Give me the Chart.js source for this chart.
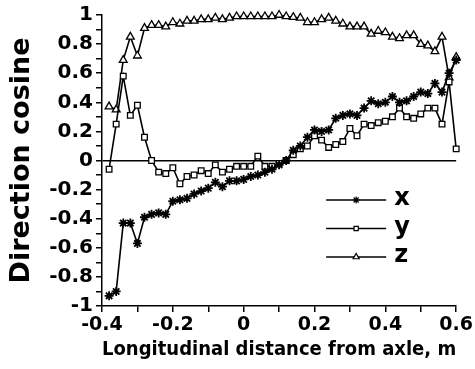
<!DOCTYPE html>
<html>
<head>
<meta charset="utf-8">
<script src="https://cdn.jsdelivr.net/npm/chart.js@4.4.1/dist/chart.umd.min.js"></script>
<style>
  body { margin: 0; background: #fff; }
  #wrap { width: 475px; height: 369px; }
</style>
</head>
<body>
<div id="wrap"><canvas id="cosChart"></canvas></div>
<script>
// distance from axle (m) and the three direction cosines
const distances = [-0.38, -0.36, -0.34, -0.32, -0.30, -0.28, -0.26, -0.24, -0.22, -0.20,
                   -0.18, -0.16, -0.14, -0.12, -0.10, -0.08, -0.06, -0.04, -0.02, 0.00,
                    0.02, 0.04, 0.06, 0.08, 0.10, 0.12, 0.14, 0.16, 0.18, 0.20,
                    0.22, 0.24, 0.26, 0.28, 0.30, 0.32, 0.34, 0.36, 0.38, 0.40,
                    0.42, 0.44, 0.46, 0.48, 0.50, 0.52, 0.54, 0.56, 0.58, 0.60];
const cosX = [-0.93, -0.90, -0.43, -0.43, -0.57, -0.39, -0.37, -0.36, -0.37, -0.28,
              -0.27, -0.26, -0.23, -0.21, -0.19, -0.15, -0.18, -0.14, -0.14, -0.13,
              -0.11, -0.10, -0.08, -0.06, -0.03, 0.00, 0.07, 0.10, 0.16, 0.21,
               0.20, 0.21, 0.29, 0.31, 0.32, 0.31, 0.36, 0.41, 0.39, 0.40,
               0.44, 0.40, 0.41, 0.44, 0.47, 0.46, 0.53, 0.47, 0.60, 0.69];
const cosY = [-0.06, 0.25, 0.58, 0.31, 0.38, 0.16, 0.00, -0.08, -0.09, -0.05,
              -0.16, -0.11, -0.10, -0.07, -0.09, -0.03, -0.08, -0.06, -0.04, -0.04,
              -0.04, 0.03, -0.04, -0.04, -0.02, 0.00, 0.04, 0.08, 0.10, 0.17,
               0.14, 0.09, 0.11, 0.13, 0.22, 0.17, 0.25, 0.24, 0.26, 0.27,
               0.30, 0.36, 0.30, 0.29, 0.32, 0.36, 0.36, 0.25, 0.54, 0.08];
const cosZ = [0.37, 0.35, 0.69, 0.85, 0.72, 0.91, 0.93, 0.93, 0.92, 0.95,
              0.94, 0.96, 0.96, 0.97, 0.97, 0.98, 0.97, 0.98, 0.99, 0.99,
              0.99, 0.99, 0.99, 0.99, 1.00, 0.99, 0.985, 0.98, 0.95, 0.95,
              0.97, 0.98, 0.96, 0.94, 0.92, 0.92, 0.92, 0.87, 0.89, 0.88,
              0.85, 0.84, 0.86, 0.86, 0.80, 0.79, 0.75, 0.85, 0.57, 0.71];

const seriesNames = ['x', 'y', 'z'];
const xTickValues = [-0.4, -0.3, -0.2, -0.1, 0, 0.1, 0.2, 0.3, 0.4, 0.5, 0.6];
const yTickValues = [-1, -0.9, -0.8, -0.7, -0.6, -0.5, -0.4, -0.3, -0.2, -0.1, 0,
                     0.1, 0.2, 0.3, 0.4, 0.5, 0.6, 0.7, 0.8, 0.9, 1];

const FONT = 'DejaVu Sans';

function toPoints(ys) {
    return distances.map((d, i) => ({ x: d, y: ys[i] }));
}

// only every other tick carries a label
function tickLabel(value) {
    const r = Math.round(value * 10);
    if (r % 2 !== 0) return '';
    return String(r / 10);
}

const markers = [
    { style: 'star', radius: 4.5, fill: '#000' },
    { style: 'rect', radius: 4, fill: '#fff' },
    { style: 'triangle', radius: 4.5, fill: '#fff' }
];

// legend drawn inside the plot: short line, marker in the middle, name on the right
const insideLegend = {
    id: 'insideLegend',
    afterDatasetsDraw(chart) {
        const ctx = chart.ctx;
        const area = chart.chartArea;
        const x0 = area.right - 130;
        const x1 = area.right - 70;
        let y = area.bottom - 106;
        ctx.save();
        seriesNames.forEach((name, i) => {
            ctx.strokeStyle = '#000';
            ctx.lineWidth = 1.5;
            ctx.beginPath();
            ctx.moveTo(x0, y);
            ctx.lineTo(x1, y);
            ctx.stroke();
            ctx.fillStyle = markers[i].fill;
            ctx.lineWidth = 1.2;
            Chart.helpers.drawPoint(ctx, {
                pointStyle: markers[i].style,
                radius: markers[i].radius - 1,
                rotation: 0,
                borderWidth: 1.2
            }, (x0 + x1) / 2, y);
            ctx.fillStyle = '#000';
            ctx.font = 'bold 24px ' + FONT;
            ctx.textBaseline = 'middle';
            ctx.textAlign = 'left';
            ctx.fillText(name, x1 + 8, y - 1);
            y += 28.5;
        });
        ctx.restore();
    }
};

const datasets = [cosX, cosY, cosZ].map((vals, i) => ({
    label: seriesNames[i],
    data: toPoints(vals),
    borderColor: '#000',
    borderWidth: 1.6,
    backgroundColor: markers[i].fill,
    pointStyle: markers[i].style,
    pointRadius: markers[i].radius,
    pointBorderWidth: i === 0 ? 1.8 : 1.3,
    pointBackgroundColor: markers[i].fill,
    pointBorderColor: '#000',
    tension: 0,
    clip: false
}));

const cosChart = new Chart(document.getElementById('cosChart'), {
    type: 'line',
    data: { datasets: datasets },
    options: {
        responsive: true,
        maintainAspectRatio: false,
        animation: false,
        layout: { padding: { top: 11, right: 18, left: 0, bottom: 0 } },
        plugins: {
            legend: { display: false },
            tooltip: { enabled: false }
        },
        scales: {
            x: {
                type: 'linear',
                min: -0.4,
                max: 0.6,
                afterBuildTicks: s => { s.ticks = xTickValues.map(v => ({ value: v })); },
                afterFit: s => { s.height = 63; },
                grid: {
                    drawOnChartArea: false,
                    color: '#000',
                    lineWidth: 1.5,
                    tickLength: 6
                },
                border: { color: '#000', width: 1.5 },
                ticks: {
                    autoSkip: false,
                    maxRotation: 0,
                    padding: 2,
                    color: '#000',
                    font: { family: FONT, size: 19, weight: 'bold' },
                    callback: v => tickLabel(v)
                },
                title: {
                    display: true,
                    text: 'Longitudinal distance from axle, m',
                    color: '#000',
                    padding: { top: 0, bottom: 7 },
                    font: { family: FONT, size: 20, weight: 'bold' }
                }
            },
            y: {
                type: 'linear',
                min: -1,
                max: 1,
                afterBuildTicks: s => { s.ticks = yTickValues.map(v => ({ value: v })); },
                afterFit: s => { s.width = 102; },
                grid: {
                    drawOnChartArea: true,
                    color: c => (c.tick && Math.abs(c.tick.value) < 1e-9) ? '#000' : 'rgba(0,0,0,0)',
                    tickColor: '#000',
                    lineWidth: 1.5,
                    tickLength: 6
                },
                border: { color: '#000', width: 1.5 },
                ticks: {
                    autoSkip: false,
                    padding: 3,
                    color: '#000',
                    font: { family: FONT, size: 20, weight: 'bold' },
                    callback: v => tickLabel(v)
                },
                title: {
                    display: true,
                    text: 'Direction cosine',
                    color: '#000',
                    padding: { top: 6, bottom: 0 },
                    font: { family: FONT, size: 27, weight: 'bold' }
                }
            }
        }
    },
    plugins: [insideLegend]
});
</script>
</body>
</html>
